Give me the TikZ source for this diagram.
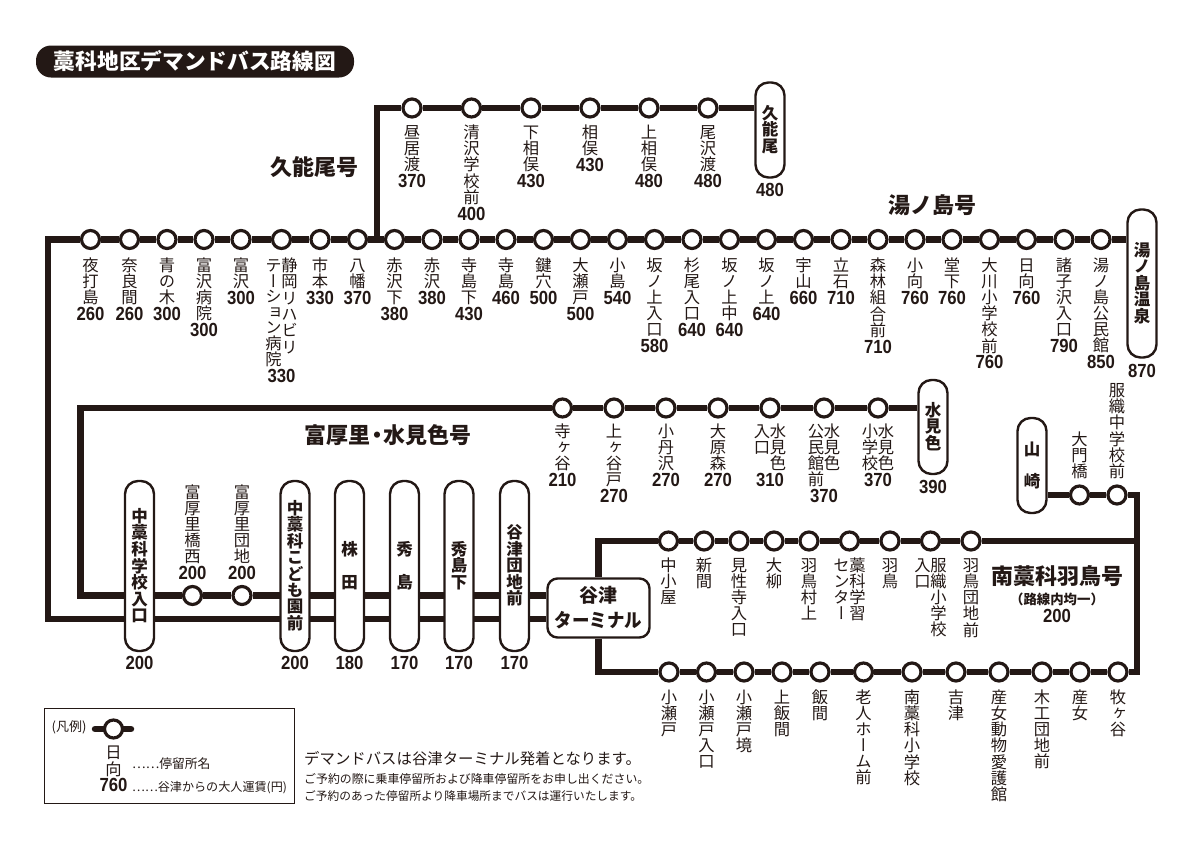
\documentclass[tikz,border=0pt]{standalone}
\usepackage{fontspec}
\usepackage{graphicx}
\usetikzlibrary{positioning,backgrounds}
\setmainfont{Noto Sans CJK JP}
\newfontfamily\vfont{Noto Sans CJK JP}[RawFeature=+vert]
\newfontfamily\farefont{Liberation Sans}[FakeStretch=0.88]
\definecolor{inkblack}{HTML}{231815}
\makeatletter
\newcommand{\vstack}[3]{\vtop{#2\offinterlineskip\@tfor\vchar:=#3\do{\hbox to 16pt{\hss\vrule height \dimexpr#1pt-2.5pt\relax depth 2.5pt width 0pt\vchar\hss}}}}
\makeatother
\newcommand{\vname}[2][16]{\vstack{#1}{\vfont\mdseries\fontsize{16.3}{16.3}\selectfont}{#2}}
\newcommand{\vbold}[2][16.4]{\vstack{#1}{\vfont\bfseries\fontsize{16.5}{16.5}\selectfont}{#2}}
\tikzset{
	route/.style={draw=inkblack,line width=6.5},
	stopnode/.style={circle,draw=inkblack,line width=3.2,fill=white,minimum size=18,inner sep=0},
	stoplabel/.style={align=center,inner sep=0,text=inkblack,font=\farefont\bfseries\fontsize{19}{19}\selectfont},
	farenode/.style={inner sep=0,text=inkblack,font=\farefont\bfseries\fontsize{19}{19}\selectfont},
	termbox/.style={draw=inkblack,line width=2.4,fill=white,rounded corners=13,minimum width=29,align=center,inner sep=0,text=inkblack},
	routetitle/.style={inner sep=0,text=inkblack,font=\bfseries\fontsize{22}{22}\selectfont},
	notetext/.style={anchor=west,inner sep=0,text=inkblack}
}
\begin{document}
\begin{tikzpicture}[x=1pt,y=-1pt]

\useasboundingbox (0,0) rectangle (1200,849);

\node[fill=inkblack,rounded corners=15,minimum width=318,minimum height=32,inner sep=0,text=white,font=\bfseries\fontsize{21.7}{21.7}\selectfont] (title) at (195,61.5) {藁科地区デマンドバス路線図};

\node[routetitle] (kunotitle) at (314.5,167) {久能尾号};
\node[routetitle] (yunotitle) at (932,205) {湯ノ島号};
\node[routetitle] (tomititle) at (388,435) {富厚里{\kern-.22em}・{\kern-.22em}水見色号};
\node[routetitle] (minamititle) at (1057,576) {南藁科羽鳥号};
\node[inner sep=0,text=inkblack,font=\bfseries\fontsize{13.4}{13.4}\selectfont] (minamisub) at (1057,599) {（路線内均一）};
\node[farenode] (minamifare) at (1057,616) {200};

\begin{scope}[every node/.style={termbox}]
	\node[minimum height=95] (kunoterm) at (770,130) {\vbold{久能尾}};
	\node[minimum height=148] (yunoterm) at (1142,283.5) {\vbold{湯ノ島温泉}};
	\node[minimum height=94] (mizuterm) at (933,427) {\vbold{水見色}};
	\node[minimum height=95] (yamaterm) at (1032,465.5) {\vbold{山}\\[14pt]\vbold{崎}};
	\node[minimum height=170] (nakagakko) at (139.5,566) {\vbold{中藁科学校入口}};
	\node[minimum height=170] (kodomoen) at (295,566) {\vbold{中藁科こども園前}};
	\node[minimum height=170] (kabuta) at (349.5,566) {\vbold{株}\\[15pt]\vbold{田}};
	\node[minimum height=170] (hideshima) at (404.5,566) {\vbold{秀}\\[15pt]\vbold{島}};
	\node[minimum height=170] (hideshita) at (459,566) {\vbold{秀島下}};
	\node[minimum height=170] (danchi) at (514.5,566) {\vbold{谷津団地前}};
	\node[minimum width=102,minimum height=59,rounded corners=10,font=\bfseries\fontsize{19}{25}\selectfont] (terminal) at (598.5,608) {谷津\\\scalebox{0.92}[1]{ターミナル}};
\end{scope}

\begin{scope}[every node/.style={farenode}]
	\node[below=4pt of kunoterm] (kunofare) {480};
	\node[below=5pt of yunoterm] (yunofare) {870};
	\node[below=5pt of mizuterm] (mizufare) {390};
	\node[below=4pt of nakagakko] (nakafare) {200};
	\node[below=4pt of kodomoen] (kodomofare) {200};
	\node[below=4pt of kabuta] (kabufare) {180};
	\node[below=4pt of hideshima] (hidefare) {170};
	\node[below=4pt of hideshita] (shitafare) {170};
	\node[below=4pt of danchi] (danchifare) {170};
\end{scope}

\begin{scope}[every node/.style={stopnode}]
	\node (k1) at (412,108) {};
	\node (k2) at (471.5,108) {};
	\node (k3) at (531,108) {};
	\node (k4) at (590,108) {};
	\node (k5) at (649,108) {};
	\node (k6) at (708,108) {};
	\node (m1) at (90.5,239.5) {};
	\node (m2) at (129.5,239.5) {};
	\node (m3) at (167,239.5) {};
	\node (m4) at (204,239.5) {};
	\node (m5) at (241,239.5) {};
	\node (m6) at (281.5,239.5) {};
	\node (m7) at (320,239.5) {};
	\node (m8) at (357.5,239.5) {};
	\node (m9) at (394.5,239.5) {};
	\node (m10) at (432,239.5) {};
	\node (m11) at (469,239.5) {};
	\node (m12) at (506,239.5) {};
	\node (m13) at (543.5,239.5) {};
	\node (m14) at (580.5,239.5) {};
	\node (m15) at (617.5,239.5) {};
	\node (m16) at (654.5,239.5) {};
	\node (m17) at (692,239.5) {};
	\node (m18) at (729.5,239.5) {};
	\node (m19) at (766.5,239.5) {};
	\node (m20) at (803.5,239.5) {};
	\node (m21) at (841,239.5) {};
	\node (m22) at (878,239.5) {};
	\node (m23) at (915,239.5) {};
	\node (m24) at (952,239.5) {};
	\node (m25) at (989.5,239.5) {};
	\node (m26) at (1026.5,239.5) {};
	\node (m27) at (1064,239.5) {};
	\node (m28) at (1101,239.5) {};
	\node (t1) at (562.5,408) {};
	\node (t2) at (614,408) {};
	\node (t3) at (666,408) {};
	\node (t4) at (718,408) {};
	\node (t5) at (770,408) {};
	\node (t6) at (824,408) {};
	\node (t7) at (878,408) {};
	\node (a1) at (192.5,595.5) {};
	\node (a2) at (242,595.5) {};
	\node (o1) at (1079.5,495) {};
	\node (o2) at (1117,495) {};
	\node (c1) at (668.5,541) {};
	\node (c2) at (704,541) {};
	\node (c3) at (739,541) {};
	\node (c4) at (774,541) {};
	\node (c5) at (809,541) {};
	\node (c6) at (849.5,541) {};
	\node (c7) at (890,541) {};
	\node (c8) at (930.5,541) {};
	\node (c9) at (971,541) {};
	\node (b1) at (669,672) {};
	\node (b2) at (706.5,672) {};
	\node (b3) at (744,672) {};
	\node (b4) at (782,672) {};
	\node (b5) at (820,672) {};
	\node (b6) at (863.5,672) {};
	\node (b7) at (912,672) {};
	\node (b8) at (956,672) {};
	\node (b9) at (999,672) {};
	\node (b10) at (1042,672) {};
	\node (b11) at (1080,672) {};
	\node (b12) at (1118,672) {};
\end{scope}

\begin{scope}[every node/.style={stoplabel}]
	\node[below=6pt of k1] (k1n) {\vname{昼居渡}\\370};
	\node[below=6pt of k2] (k2n) {\vname{清沢学校前}\\400};
	\node[below=6pt of k3] (k3n) {\vname{下相俣}\\430};
	\node[below=6pt of k4] (k4n) {\vname{相俣}\\430};
	\node[below=6pt of k5] (k5n) {\vname{上相俣}\\480};
	\node[below=6pt of k6] (k6n) {\vname{尾沢渡}\\480};
	\node[below=7.5pt of m1] (m1n) {\vname{夜打島}\\260};
	\node[below=7.5pt of m2] (m2n) {\vname{奈良間}\\260};
	\node[below=7.5pt of m3] (m3n) {\vname{青の木}\\300};
	\node[below=7.5pt of m4] (m4n) {\vname{富沢病院}\\300};
	\node[below=7.5pt of m5] (m5n) {\vname{富沢}\\300};
	\node[below=7.5pt of m6] (m6n) {\vname[15.5]{テーション病院}\vname[16.3]{静岡リハビリ}\\330};
	\node[below=7.5pt of m7] (m7n) {\vname{市本}\\330};
	\node[below=7.5pt of m8] (m8n) {\vname{八幡}\\370};
	\node[below=7.5pt of m9] (m9n) {\vname{赤沢下}\\380};
	\node[below=7.5pt of m10] (m10n) {\vname{赤沢}\\380};
	\node[below=7.5pt of m11] (m11n) {\vname{寺島下}\\430};
	\node[below=7.5pt of m12] (m12n) {\vname{寺島}\\460};
	\node[below=7.5pt of m13] (m13n) {\vname{鍵穴}\\500};
	\node[below=7.5pt of m14] (m14n) {\vname{大瀬戸}\\500};
	\node[below=7.5pt of m15] (m15n) {\vname{小島}\\540};
	\node[below=7.5pt of m16] (m16n) {\vname{坂ノ上入口}\\580};
	\node[below=7.5pt of m17] (m17n) {\vname{杉尾入口}\\640};
	\node[below=7.5pt of m18] (m18n) {\vname{坂ノ上中}\\640};
	\node[below=7.5pt of m19] (m19n) {\vname{坂ノ上}\\640};
	\node[below=7.5pt of m20] (m20n) {\vname{宇山}\\660};
	\node[below=7.5pt of m21] (m21n) {\vname{立石}\\710};
	\node[below=7.5pt of m22] (m22n) {\vname{森林組合前}\\710};
	\node[below=7.5pt of m23] (m23n) {\vname{小向}\\760};
	\node[below=7.5pt of m24] (m24n) {\vname{堂下}\\760};
	\node[below=7.5pt of m25] (m25n) {\vname{大川小学校前}\\760};
	\node[below=7.5pt of m26] (m26n) {\vname{日向}\\760};
	\node[below=7.5pt of m27] (m27n) {\vname{諸子沢入口}\\790};
	\node[below=7.5pt of m28] (m28n) {\vname{湯ノ島公民館}\\850};
	\node[below=5pt of t1] (t1n) {\vname{寺ヶ谷}\\210};
	\node[below=5pt of t2] (t2n) {\vname{上ヶ谷戸}\\270};
	\node[below=5pt of t3] (t3n) {\vname{小丹沢}\\270};
	\node[below=5pt of t4] (t4n) {\vname{大原森}\\270};
	\node[below=5pt of t5] (t5n) {\vname{入口}\vname{水見色}\\310};
	\node[below=5pt of t6] (t6n) {\vname{公民館前}\vname{水見色}\\370};
	\node[below=5pt of t7] (t7n) {\vname{小学校}\vname{水見色}\\370};
	\node[above=5pt of a1] (a1n) {\vname{富厚里橋西}\\200};
	\node[above=5pt of a2] (a2n) {\vname{富厚里団地}\\200};
	\node[above=4pt of o1] (o1n) {\vname{大門橋}};
	\node[above=4pt of o2] (o2n) {\vname[14.7]{服織中学校前}};
	\node[below=6pt of c1] (c1n) {\vname{中小屋}};
	\node[below=6pt of c2] (c2n) {\vname{新間}};
	\node[below=6pt of c3] (c3n) {\vname{見性寺入口}};
	\node[below=6pt of c4] (c4n) {\vname{大柳}};
	\node[below=6pt of c5] (c5n) {\vname{羽鳥村上}};
	\node[below=6pt of c6] (c6n) {\vname{センター}\vname{藁科学習}};
	\node[below=6pt of c7] (c7n) {\vname{羽鳥}};
	\node[below=6pt of c8] (c8n) {\vname{入口}\vname{服織小学校}};
	\node[below=6pt of c9] (c9n) {\vname{羽鳥団地前}};
	\node[below=7pt of b1] (b1n) {\vname{小瀬戸}};
	\node[below=7pt of b2] (b2n) {\vname{小瀬戸入口}};
	\node[below=7pt of b3] (b3n) {\vname{小瀬戸境}};
	\node[below=7pt of b4] (b4n) {\vname{上飯間}};
	\node[below=7pt of b5] (b5n) {\vname{飯間}};
	\node[below=7pt of b6] (b6n) {\vname{老人ホーム前}};
	\node[below=7pt of b7] (b7n) {\vname{南藁科小学校}};
	\node[below=7pt of b8] (b8n) {\vname{吉津}};
	\node[below=7pt of b9] (b9n) {\vname{産女動物愛護館}};
	\node[below=7pt of b10] (b10n) {\vname{木工団地前}};
	\node[below=7pt of b11] (b11n) {\vname{産女}};
	\node[below=7pt of b12] (b12n) {\vname{牧ヶ谷}};
\end{scope}

\coordinate (kunojoin) at (377,239.5);
\coordinate (kunocorner) at (377,108);
\coordinate (maintop) at (48,239.5);
\coordinate (mainlow) at (48,619);
\coordinate (tomitop) at (80.5,408);
\coordinate (tomilow) at (80.5,595.5);
\coordinate (ringtop) at (598.5,541);
\coordinate (ringlow) at (598.5,672);
\coordinate (rightmid) at (1137,541);
\coordinate (righttop) at (1137,495);
\coordinate (rightlow) at (1137,672);

\begin{scope}[on background layer]
	\draw[route] (kunojoin) -- (kunocorner) -- (k1) -- (k2) -- (k3) -- (k4) -- (k5) -- (k6) -- (k6 -| kunoterm.west);
	\draw[route] (terminal.west |- mainlow) -- (mainlow) -- (maintop) -- (m1) -- (m2) -- (m3) -- (m4) -- (m5) -- (m6) -- (m7) -- (m8) -- (m9) -- (m10) -- (m11) -- (m12) -- (m13) -- (m14) -- (m15) -- (m16) -- (m17) -- (m18) -- (m19) -- (m20) -- (m21) -- (m22) -- (m23) -- (m24) -- (m25) -- (m26) -- (m27) -- (m28) -- (m28 -| yunoterm.west);
	\draw[route] (terminal.west |- tomilow) -- (a2) -- (a1) -- (tomilow) -- (tomitop) -- (t1) -- (t2) -- (t3) -- (t4) -- (t5) -- (t6) -- (t7) -- (t7 -| mizuterm.west);
	\draw[route] (terminal.north) -- (ringtop) -- (c1) -- (c2) -- (c3) -- (c4) -- (c5) -- (c6) -- (c7) -- (c8) -- (c9) -- (rightmid);
	\draw[route] (terminal.south) -- (ringlow) -- (b1) -- (b2) -- (b3) -- (b4) -- (b5) -- (b6) -- (b7) -- (b8) -- (b9) -- (b10) -- (b11) -- (b12) -- (rightlow) -- (righttop) -- (o2) -- (o1) -- (o1 -| yamaterm.east);
\end{scope}

\node[draw=inkblack,line width=1.6,minimum width=250,minimum height=95,inner sep=0] (legendbox) at (169.5,756) {};
\node[inner sep=0,text=inkblack,font=\fontsize{13}{13}\selectfont] (legendhead) at (69,727.5) {(凡例)};
\node[stopnode] (legendstop) at (113.5,729) {};
\coordinate (legendleft) at (95,729);
\coordinate (legendright) at (131,729);
\begin{scope}[on background layer]
	\draw[route,line cap=round] (legendleft) -- (legendright);
\end{scope}
\node[stoplabel,anchor=north] (legendname) at (113.5,746) {\vname[15]{日向}\\760};
\node[notetext,font=\fontsize{12.8}{12.8}\selectfont] (legendnote1) at (132,764) {……停留所名};
\node[notetext,font=\fontsize{12.1}{12.1}\selectfont] (legendnote2) at (132,788) {……谷津からの大人運賃(円)};

\node[notetext,font=\fontsize{15.4}{15.4}\selectfont] (note1) at (304,759) {デマンドバスは谷津ターミナル発着となります。};
\node[notetext,font=\fontsize{11.9}{11.9}\selectfont] (note2) at (304,779) {ご予約の際に乗車停留所および降車停留所をお申し出ください。};
\node[notetext,font=\fontsize{11.7}{11.7}\selectfont] (note3) at (304,796) {ご予約のあった停留所より降車場所までバスは運行いたします。};

\end{tikzpicture}
\end{document}
